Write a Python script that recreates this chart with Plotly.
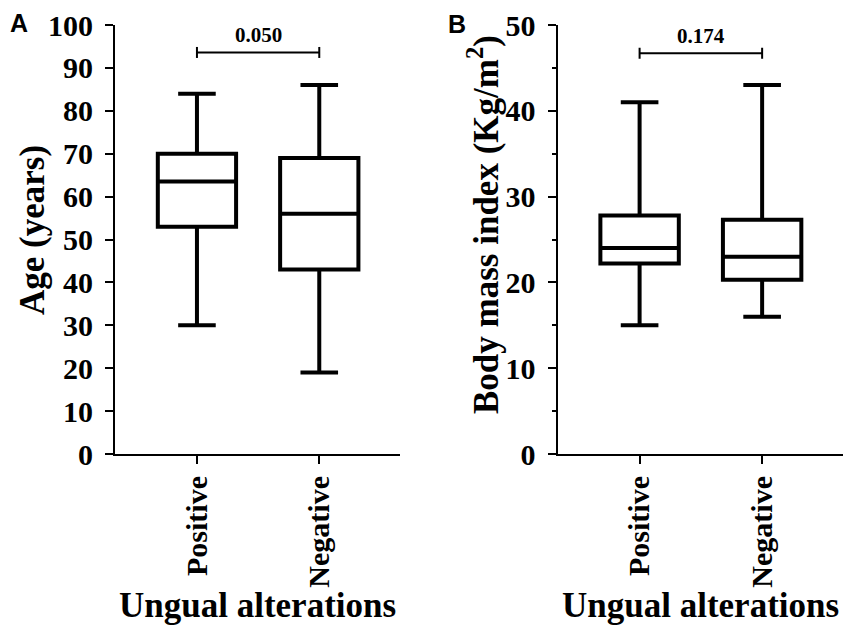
import plotly.graph_objects as go

# Box-plot summaries
categories = ['Positive', 'Negative']

age_lower = [30, 19]
age_q1 = [53, 43]
age_median = [63.5, 56]
age_q3 = [70, 69]
age_upper = [84, 86]
age_p = '0.050'

bmi_lower = [15, 16]
bmi_q1 = [22.2, 20.3]
bmi_median = [24, 23]
bmi_q3 = [27.8, 27.3]
bmi_upper = [41, 43]
bmi_p = '0.174'

W, H = 851, 639
SERIF = 'Liberation Serif'
SANS = 'Liberation Sans'


def px_x(p):
    return p / W


def px_y(p):
    return 1 - p / H


y_dom = [px_y(454), px_y(25)]
xa_dom = [px_x(115), px_x(400)]
xb_dom = [px_x(557.5), px_x(843)]

fig = go.Figure()

box_style = dict(width=0.64, whiskerwidth=0.48, fillcolor='white',
                 line=dict(color='black', width=4), boxpoints=False,
                 showlegend=False, hoverinfo='skip')

fig.add_trace(go.Box(x=categories, q1=age_q1, median=age_median, q3=age_q3,
                     lowerfence=age_lower, upperfence=age_upper,
                     xaxis='x', yaxis='y', **box_style))
fig.add_trace(go.Box(x=categories, q1=bmi_q1, median=bmi_median, q3=bmi_q3,
                     lowerfence=bmi_lower, upperfence=bmi_upper,
                     xaxis='x2', yaxis='y2', **box_style))


def bracket(y, half, xa, ya):
    a, b = categories
    xs = [a, a, None, a, b, None, b, b]
    ys = [y - half, y + half, None, y, y, None, y - half, y + half]
    return go.Scatter(x=xs, y=ys, mode='lines', xaxis=xa, yaxis=ya,
                      line=dict(color='black', width=2),
                      showlegend=False, hoverinfo='skip')


# bracket heights and tick half-heights (5.5 px converted to data units)
age_bracket_y = 93.6
bmi_bracket_y = 46.7
fig.add_trace(bracket(age_bracket_y, 5.5 * 100 / 429, 'x', 'y'))
fig.add_trace(bracket(bmi_bracket_y, 5.5 * 50 / 429, 'x2', 'y2'))

tick_font = dict(family=SERIF, size=30, color='black', weight='bold')
x_common = dict(type='category', range=[-0.67, 1.66], showline=True, linewidth=2,
                linecolor='black', ticks='outside', ticklen=8, tickwidth=2,
                tickcolor='black', tickangle=-90, tickfont=tick_font,
                showgrid=False, zeroline=False, automargin=False)
y_common = dict(showline=True, linewidth=2, linecolor='black', ticks='outside',
                ticklen=8, tickwidth=2, tickcolor='black', tickfont=tick_font,
                showgrid=False, zeroline=False, domain=y_dom, ticklabelstandoff=6,
                automargin=False)

fig.update_layout(
    template='none',
    width=W, height=H,
    margin=dict(l=0, r=0, t=0, b=0, autoexpand=False),
    paper_bgcolor='white', plot_bgcolor='white',
    xaxis=dict(x_common, domain=xa_dom, anchor='y'),
    yaxis=dict(y_common, range=[0, 100], dtick=10, anchor='x'),
    xaxis2=dict(x_common, domain=xb_dom, anchor='y2'),
    yaxis2=dict(y_common, range=[0, 50], dtick=10, anchor='x2',
                minor=dict(dtick=5, ticks='outside', ticklen=4, tickwidth=2,
                           tickcolor='black', showgrid=False)),
)

title_font = dict(family=SERIF, size=35, color='black', weight='bold')
p_font = dict(family=SERIF, size=21, color='black', weight='bold')
label_font = dict(family=SANS, size=25, color='black', weight='bold')
centred = dict(xanchor='center', yanchor='middle', showarrow=False)

annotations = [
    # p-values above the brackets
    dict(text=age_p, x=0.5, y=age_bracket_y, xref='x', yref='y', xanchor='center',
         yanchor='bottom', yshift=3, showarrow=False, font=p_font),
    dict(text=bmi_p, x=0.5, y=bmi_bracket_y, xref='x2', yref='y2', xanchor='center',
         yanchor='bottom', yshift=3, showarrow=False, font=p_font),
    # axis titles
    dict(text='Ungual alterations', x=sum(xa_dom) / 2, y=px_y(605),
         xref='paper', yref='paper', font=title_font, **centred),
    dict(text='Ungual alterations', x=sum(xb_dom) / 2, y=px_y(605),
         xref='paper', yref='paper', font=title_font, **centred),
    dict(text='Age (years)', x=px_x(33), y=px_y(230), textangle=-90,
         xref='paper', yref='paper', font=title_font, **centred),
    dict(text='Body mass index (Kg/m<sup>2</sup>)', x=px_x(484), y=px_y(225),
         textangle=-90, xref='paper', yref='paper', font=title_font, **centred),
    # panel letters
    dict(text='A', x=px_x(19), y=px_y(23), xref='paper', yref='paper',
         font=label_font, **centred),
    dict(text='B', x=px_x(457), y=px_y(24), xref='paper', yref='paper',
         font=label_font, **centred),
]
fig.update_layout(annotations=annotations)

# drop the page margin so the figure sits at the window's corner
fig.write_html('out.html', config={'displayModeBar': False},
               post_script="document.body.style.margin='0px';")
